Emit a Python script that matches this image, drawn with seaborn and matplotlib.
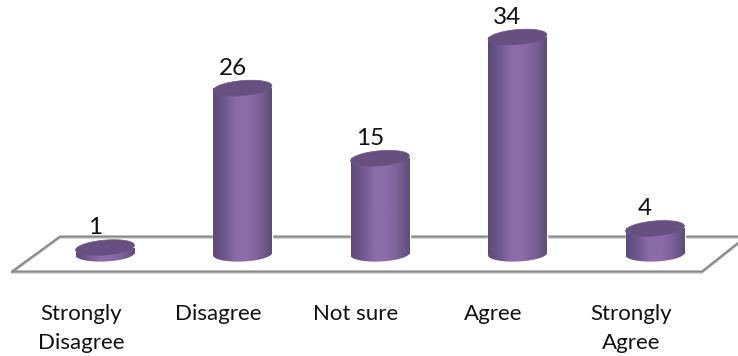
import numpy as np
import matplotlib
matplotlib.use("Agg")
import matplotlib.pyplot as plt
import matplotlib.transforms as mtrans
from matplotlib.colors import LinearSegmentedColormap
from matplotlib.patches import Polygon
import seaborn as sns

categories = ["Strongly\nDisagree", "Disagree", "Not sure", "Agree", "Strongly\nAgree"]
values = [1, 26, 15, 34, 4]

FONT = "Lato"
W, H = 738, 356
X0, DX = 105.0, 137.5     # pixel of first category, pixels per category
Y0, DY = 254.0, 6.38      # pixel of value 0, pixels per unit
AX_BOTTOM = 276.0
BAR_W = 59.0
ELL_H = 15.0
TOP_TILT = np.deg2rad(5)
BASE_TILT = np.deg2rad(2.5)

sns.set_theme(style="white")
plt.rcParams["font.family"] = [FONT, "DejaVu Sans"]

fig = plt.figure(figsize=(W / 100, H / 100), dpi=100)
ax = fig.add_axes([0, (H - AX_BOTTOM) / H, 1, AX_BOTTOM / H])

sns.barplot(x=list(range(len(values))), y=values, color="#7a5f98",
            width=BAR_W / DX, ax=ax, zorder=3, saturation=1)

def px(x, y):
    return (x - X0) / DX, (Y0 - y) / DY

# floor frame
floor = [[(12, 271.5), (60, 236.5), (738, 236.5)],
         [(12, 271.5), (702, 271.5), (738, 243)]]
for seg in floor:
    xs, ys = zip(*[px(*p) for p in seg])
    ax.plot(xs, ys, color="#c8c8c8", lw=1.5, zorder=1, clip_on=False,
            solid_joinstyle="miter",
            transform=ax.transData + mtrans.ScaledTranslation(0, -1.2 / 100, fig.dpi_scale_trans))
    ax.plot(xs, ys, color="#8a8a8a", lw=1.5, zorder=1.5, clip_on=False, solid_joinstyle="miter")

body_cmap = LinearSegmentedColormap.from_list(
    "cyl", ["#5c4a75", "#6f5890", "#8b6ca9", "#8b6ca9", "#7a6098", "#5f4c79"])
grad = np.linspace(0, 1, 256).reshape(1, -1)

def ellipse_pts(cx_px, cy_px, tilt, n=120):
    t = np.linspace(0, 2 * np.pi, n)
    a, b = BAR_W / 2, ELL_H / 2
    ex = cx_px + a * np.cos(t) * np.cos(tilt) + b * np.sin(t) * np.sin(tilt)
    ey = cy_px - a * np.cos(t) * np.sin(tilt) + b * np.sin(t) * np.cos(tilt)
    return np.column_stack(px(ex, ey))

label_offsets = (-10, 20)
for i, (bar, v) in enumerate(zip(ax.patches, values)):
    xl, w = bar.get_x(), bar.get_width()
    cx_px = X0 + i * DX
    top_px = Y0 - v * DY
    base = Polygon(ellipse_pts(cx_px, Y0, BASE_TILT), closed=True, fc="none", ec="none", zorder=3)
    ax.add_patch(base)
    extent = (xl, xl + w, -3, v)
    im1 = ax.imshow(grad, cmap=body_cmap, aspect="auto", extent=extent, zorder=3.1)
    im1.set_clip_path(bar)
    im2 = ax.imshow(grad, cmap=body_cmap, aspect="auto", extent=extent, zorder=3.1)
    im2.set_clip_path(base)
    top = Polygon(ellipse_pts(cx_px, top_px, TOP_TILT), closed=True, fc="#655080", ec="#6d5789", lw=0.5, zorder=4)
    ax.add_patch(top)
    ax.annotate(str(v), xy=(i, v), xytext=(label_offsets[0] * 0.72, label_offsets[1] * 0.72),
                textcoords="offset points", ha="center", va="center", fontsize=17.5,
                color="#111111", family=[FONT, "DejaVu Sans"], zorder=5)

ax.set_xlim(-X0 / DX, (W - X0) / DX)
ax.set_ylim((Y0 - AX_BOTTOM) / DY, Y0 / DY)

ax.set_xticks(range(len(categories)))
ax.set_xticklabels(categories, fontsize=16, linespacing=1.52, color="#111111")
ax.set_yticks([])
ax.tick_params(axis="x", length=0, pad=20.5)
shift = mtrans.ScaledTranslation(-24 / 100, 0, fig.dpi_scale_trans)
for lab in ax.get_xticklabels():
    lab.set_transform(lab.get_transform() + shift)
for s in ax.spines.values():
    s.set_visible(False)
ax.patch.set_visible(False)

fig.savefig("out.png", dpi=100, facecolor="white")
